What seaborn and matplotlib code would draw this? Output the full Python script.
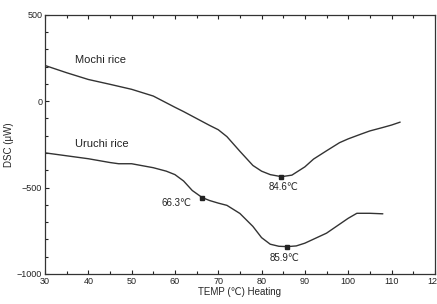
import numpy as np
import pandas as pd
import matplotlib
matplotlib.use("Agg")
import matplotlib.pyplot as plt
import seaborn as sns

# values
mochi_temp = [30, 35, 40, 45, 50, 55, 60, 62, 65, 68, 70, 72, 75, 78, 80, 82, 84.6,
              87, 90, 92, 95, 98, 100, 103, 105, 108, 110, 112]
mochi_dsc = [207, 165, 126, 98, 69, 30, -35, -60, -100, -140, -165, -205, -290, -372,
             -405, -425, -437, -428, -380, -335, -287, -240, -218, -190, -172, -152,
             -138, -121]

uruchi_temp = [30, 35, 40, 45, 47, 50, 55, 58, 60, 62, 64, 66.3, 68, 70, 72, 75, 78,
               80, 82, 84, 85.9, 88, 90, 95, 100, 102, 105, 108]
uruchi_dsc = [-299, -316, -333, -355, -362, -362, -385, -405, -425, -462, -517, -558,
              -575, -590, -603, -650, -725, -790, -828, -840, -842, -838, -822, -764,
              -678, -649, -649, -652]

peak_temp = [84.6, 66.3, 85.9]
peak_dsc = [-437, -558, -842]
peak_labels = ["84.6\u2103", "66.3\u2103", "85.9\u2103"]

x_ticks = [30, 40, 50, 60, 70, 80, 90, 100, 110, 120]
y_ticks = [500, 0, -500, -1000]

df = pd.concat([
    pd.DataFrame({"temp": mochi_temp, "dsc": mochi_dsc, "rice": "Mochi rice"}),
    pd.DataFrame({"temp": uruchi_temp, "dsc": uruchi_dsc, "rice": "Uruchi rice"}),
])

sns.set_style("ticks")
plt.rcParams["font.family"] = ["Liberation Sans", "DejaVu Sans"]

fig = plt.figure(figsize=(4.37, 3.04), dpi=100)
ax = fig.add_axes([0.103, 0.099, 0.892, 0.852])

sns.lineplot(data=df, x="temp", y="dsc", units="rice", estimator=None,
             color="#333333", linewidth=1.0, sort=False, ax=ax, legend=False)
ax.plot(peak_temp, peak_dsc, "s", color="#222222", markersize=2.5)

ax.text(37, 236, "Mochi rice", fontsize=8, ha="left", va="center", color="#222222")
ax.text(37, -247, "Uruchi rice", fontsize=8, ha="left", va="center", color="#222222")
ax.text(85.0, -494, peak_labels[0], fontsize=7, ha="center", va="center", color="#222222")
ax.text(60.4, -592, peak_labels[1], fontsize=7, ha="center", va="center", color="#222222")
ax.text(85.4, -908, peak_labels[2], fontsize=7, ha="center", va="center", color="#222222")

ax.set_xlim(30, 120)
ax.set_ylim(-1000, 500)
ax.set_xticks(x_ticks)
ax.set_yticks(y_ticks)
ax.set_xticks(np.arange(35, 120, 10), minor=True)
ax.set_yticks(np.arange(-900, 500, 100), minor=True)
ax.tick_params(axis="both", which="both", direction="in", labelsize=6.5,
               top=True, right=False, length=3, width=0.8, pad=2, colors="#222222")
ax.tick_params(axis="both", which="minor", length=2.5)

for s in ax.spines.values():
    s.set_color("#333333")
    s.set_linewidth(0.9)

ax.set_xlabel("TEMP (\u2103) Heating", fontsize=7, labelpad=1)
ax.set_ylabel("DSC (\u03bcW)", fontsize=7, labelpad=2)

fig.savefig("out.png", dpi=100)
